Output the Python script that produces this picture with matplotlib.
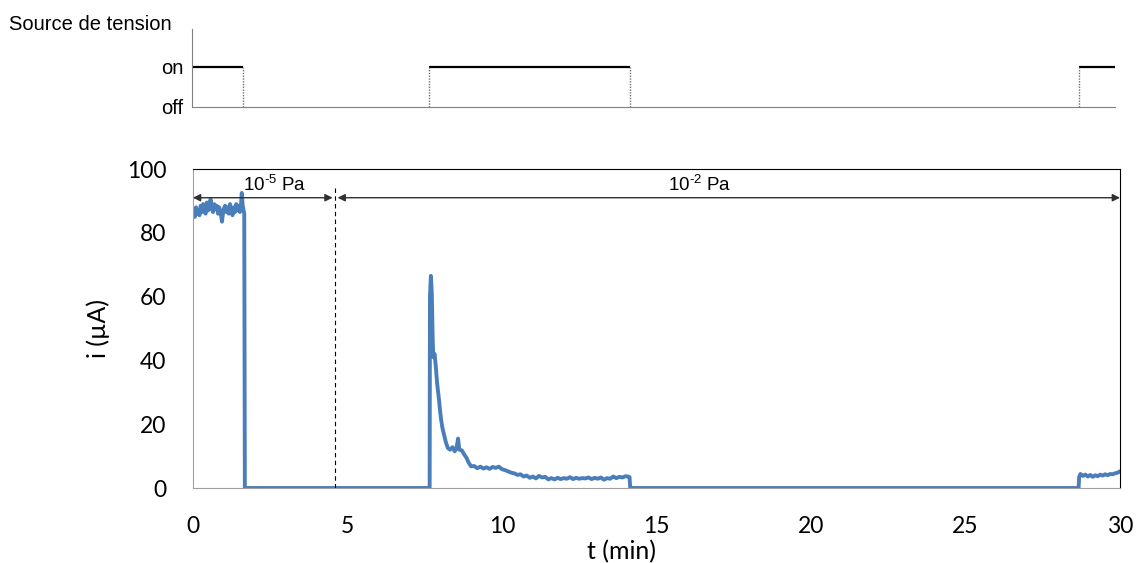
import matplotlib.pyplot as plt

plt.rcParams['mathtext.fontset'] = 'custom'
plt.rcParams['mathtext.rm'] = 'Liberation Sans'
plt.rcParams['mathtext.it'] = 'Liberation Sans'
plt.rcParams['mathtext.default'] = 'regular'

# courant mesure (min, uA)
time = [0.00, 0.03, 0.06, 0.10, 0.13, 0.17, 0.21, 0.25, 0.29, 0.33, 0.37, 0.41, 0.45, 0.49,
        0.53, 0.57, 0.61, 0.65, 0.69, 0.73, 0.77, 0.81, 0.85, 0.89, 0.92, 0.94, 0.97, 1.00,
        1.04, 1.08, 1.12, 1.16, 1.20, 1.24, 1.28, 1.32, 1.36, 1.40, 1.44, 1.48, 1.52, 1.55,
        1.58, 1.61, 1.64, 1.66, 1.68,
        7.66, 7.67, 7.70, 7.73, 7.76, 7.78, 7.82, 7.86, 7.90, 7.93, 7.97, 8.00, 8.03, 8.07,
        8.12, 8.18, 8.25, 8.32, 8.40, 8.47, 8.53, 8.58, 8.62, 8.70, 8.78, 8.85, 8.92, 9.00,
        9.10, 9.20, 9.30, 9.40, 9.50, 9.60, 9.70, 9.80, 9.90, 10.00, 10.10, 10.20, 10.30,
        10.40, 10.50, 10.60, 10.70, 10.80, 10.90, 11.00, 11.10, 11.20, 11.30, 11.40, 11.50,
        11.60, 11.70, 11.80, 11.90, 12.00, 12.10, 12.20, 12.30, 12.40, 12.50, 12.60, 12.70,
        12.80, 12.90, 13.00, 13.10, 13.20, 13.30, 13.40, 13.50, 13.60, 13.70, 13.80, 13.90,
        14.00, 14.08, 14.13, 14.15,
        28.66, 28.68, 28.72, 28.80, 28.88, 28.96, 29.04, 29.12, 29.20, 29.28, 29.36, 29.44,
        29.52, 29.60, 29.68, 29.76, 29.84, 29.92, 30.00]
current = [86.0, 87.5, 85.0, 88.0, 86.0, 87.0, 85.5, 88.5, 86.5, 89.0, 87.0, 86.0, 89.5, 87.0,
           88.0, 90.5, 87.5, 86.5, 89.0, 87.5, 88.5, 86.0, 88.0, 86.5, 85.0, 83.5, 86.0, 87.5,
           88.5, 86.5, 88.0, 86.0, 89.0, 87.0, 85.5, 88.0, 86.5, 89.0, 87.0, 88.5, 86.5, 88.0,
           92.5, 88.5, 87.0, 86.0, 0.0,
           0.0, 60.0, 66.5, 61.0, 46.0, 41.0, 42.0, 38.0, 33.0, 30.5, 27.0, 24.0, 21.5, 19.0,
           17.0, 14.5, 12.5, 12.0, 12.8, 11.5, 12.5, 15.5, 12.0, 11.8, 10.5, 9.5, 8.0, 6.8,
           6.9, 6.2, 6.7, 6.1, 6.5, 6.0, 6.6, 6.3, 6.7, 5.9, 5.6, 5.2, 4.8,
           4.6, 4.1, 4.3, 3.6, 3.9, 3.2, 3.6, 3.0, 3.8, 3.3, 3.5, 2.7,
           3.1, 2.7, 3.2, 2.8, 3.1, 2.9, 3.4, 2.8, 3.2, 2.9, 3.1, 3.0,
           3.3, 2.8, 3.2, 2.9, 3.3, 2.6, 3.1, 2.9, 3.6, 3.1, 3.5, 3.3,
           3.7, 3.6, 3.4, 0.0,
           0.0, 3.5, 4.4, 3.8, 4.2, 3.6, 4.1, 3.5, 4.0, 3.7, 4.2, 3.9,
           4.3, 4.0, 4.4, 4.3, 4.6, 4.8, 5.2]

# source de tension
on_start = [0.0, 7.67, 28.67]
on_end = [1.65, 14.17, 29.84]
p_limit = 4.6

fig = plt.figure(figsize=(11.39, 5.63), dpi=100)

# panneau du haut : etat de la source
ax0 = fig.add_axes([0.1686, 0.81, 0.8104, 0.1385])
for s, e in zip(on_start, on_end):
    ax0.plot([s, e], [1, 1], color='black', lw=1.6, solid_capstyle='butt')
    for x in (s, e):
        if 0 < x < on_end[-1]:
            ax0.plot([x, x], [0, 1], color='#707070', lw=1.0, ls=(0, (1, 1)))
ax0.set_xlim(0, on_end[-1])
ax0.set_ylim(0, 1.95)
ax0.set_yticks([0, 1])
ax0.set_yticklabels(['off', 'on'], family='Liberation Sans', fontsize=14.5)
ax0.tick_params(length=0, pad=6)
ax0.set_xticks([])
for k in ('top', 'right'):
    ax0.spines[k].set_visible(False)
for k in ('left', 'bottom'):
    ax0.spines[k].set_color('#808080')
fig.text(0.008, 0.957, 'Source de tension', family='Liberation Sans', fontsize=14.5,
         ha='left', va='center')

# panneau du bas : courant
ax = fig.add_axes([0.1694, 0.1332, 0.8139, 0.5666])
ax.plot(time, current, color='#4a7ebb', lw=2.8, solid_joinstyle='round')
ax.set_xlim(0, 30)
ax.set_ylim(0, 100)
ax.set_xticks(range(0, 31, 5))
ax.set_yticks(range(0, 101, 20))
ax.tick_params(length=0, labelsize=16.5)
ax.tick_params(axis='y', pad=19)
ax.tick_params(axis='x', pad=20)
for lab in ax.get_xticklabels() + ax.get_yticklabels():
    lab.set_family('Lato')
ax.set_xlabel('t (min)', family='Lato', fontsize=18)
ax.xaxis.set_label_coords(0.462, -0.163)
ax.set_ylabel('i (µA)', family='Lato', fontsize=18)
ax.yaxis.set_label_coords(-0.0895, 0.5)
for k in ('left', 'bottom'):
    ax.spines[k].set_color('#a0a0a0')
for k in ('top', 'right'):
    ax.spines[k].set_color('black')

ax.plot([p_limit, p_limit], [0, 95], color='black', lw=0.8, ls=(0, (4, 3)))
arrow = dict(arrowstyle='<|-|>', color='#303030', lw=1.0, mutation_scale=11,
             shrinkA=0, shrinkB=0)
ax.annotate('', xy=(0, 91), xytext=(p_limit - 0.08, 91), arrowprops=arrow)
ax.annotate('', xy=(p_limit + 0.08, 91), xytext=(30, 91), arrowprops=arrow)
ax.text(2.65, 95, '10$^{\u20105}$ Pa', ha='center', va='center', fontsize=13.5,
        family='Liberation Sans')
ax.text(16.4, 95, '10$^{\u20102}$ Pa', ha='center', va='center', fontsize=13.5,
        family='Liberation Sans')

fig.savefig('out.png', dpi=100)
